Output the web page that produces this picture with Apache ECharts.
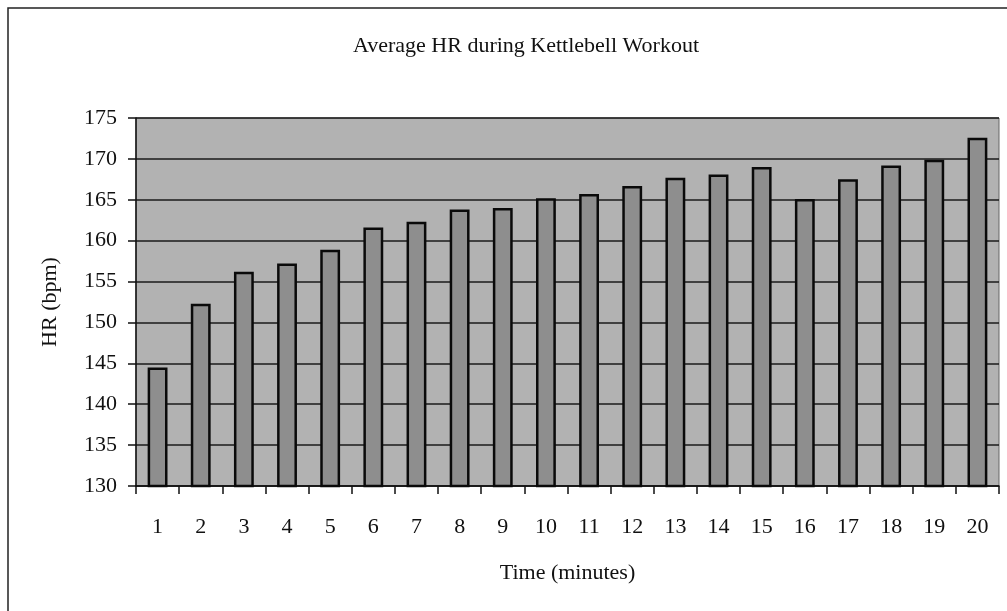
<!DOCTYPE html>
<html>
<head>
<meta charset="utf-8">
<script src="https://cdn.jsdelivr.net/npm/echarts@6/dist/echarts.min.js"></script>
<style>
  html, body { margin: 0; padding: 0; background: #fff; }
  #chart { width: 1007px; height: 611px; }
</style>
</head>
<body>
<div id="chart"></div>
<script>
// 数据
const minutes = ['1', '2', '3', '4', '5', '6', '7', '8', '9', '10',
  '11', '12', '13', '14', '15', '16', '17', '18', '19', '20']
const avgHR = [144.5, 152.3, 156.2, 157.2, 158.9, 161.6, 162.3, 163.8, 164.0, 165.2,
  165.7, 166.7, 167.7, 168.1, 169.0, 165.1, 167.5, 169.2, 169.9, 172.6]
const yTicks = { min: 130, max: 175, interval: 5 }

const font = '"Liberation Serif", "DejaVu Serif", serif'

const chart = echarts.init(document.getElementById('chart'))

const option = {
  backgroundColor: '#fff',
  animation: false,
  title: {
    text: 'Average HR during Kettlebell Workout',
    left: 521,
    top: 30,
    textAlign: 'center',
    textStyle: {
      fontFamily: font,
      fontSize: 22,
      fontWeight: 'normal',
      color: '#111'
    }
  },
  // 外框（左、上）
  graphic: [
    {
      type: 'polyline',
      shape: { points: [[8, 611], [8, 8], [1007, 8]] },
      style: { stroke: '#222', lineWidth: 1.5, fill: null }
    }
  ],
  grid: {
    left: 136,
    right: 8,
    top: 118,
    bottom: 125,
    show: true,
    backgroundColor: '#b2b2b2',
    borderColor: '#666',
    borderWidth: 1
  },
  xAxis: {
    type: 'category',
    data: minutes,
    name: 'Time (minutes)',
    nameLocation: 'middle',
    nameGap: 76,
    nameTextStyle: {
      fontFamily: font,
      fontSize: 22,
      color: '#111'
    },
    axisLine: { lineStyle: { color: '#111', width: 1.5 } },
    axisTick: { show: true, length: 8, lineStyle: { color: '#111', width: 1.5 } },
    axisLabel: {
      fontFamily: font,
      fontSize: 22,
      color: '#111',
      margin: 30
    }
  },
  yAxis: {
    type: 'value',
    min: yTicks.min,
    max: yTicks.max,
    interval: yTicks.interval,
    name: 'HR (bpm)',
    nameLocation: 'middle',
    nameGap: 75,
    nameTextStyle: {
      fontFamily: font,
      fontSize: 22,
      color: '#111'
    },
    axisLine: { show: true, lineStyle: { color: '#111', width: 1.5 } },
    axisTick: { show: true, length: 8, lineStyle: { color: '#111', width: 1.5 } },
    axisLabel: {
      fontFamily: font,
      fontSize: 22,
      color: '#111',
      margin: 19
    },
    splitLine: {
      lineStyle: { color: '#1a1a1a', width: 1.5 }
    }
  },
  series: [
    {
      name: 'Average HR',
      type: 'bar',
      data: avgHR,
      barWidth: '46%',
      itemStyle: {
        color: '#8e8e8e',
        borderColor: '#0a0a0a',
        borderWidth: 2.5
      }
    }
  ]
}

chart.setOption(option)
</script>
</body>
</html>
